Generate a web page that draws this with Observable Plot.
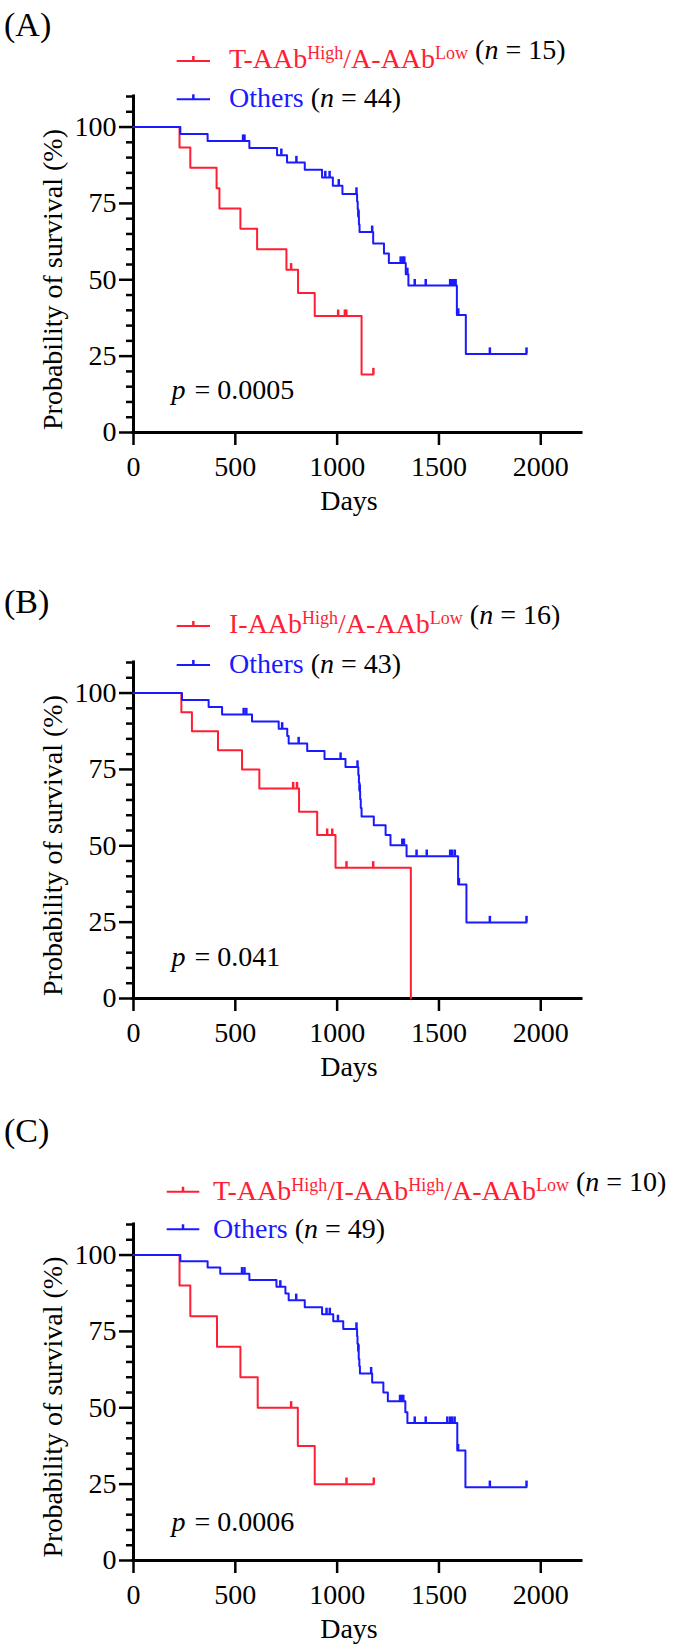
<!DOCTYPE html>
<html><head><meta charset="utf-8">
<script src="https://cdn.jsdelivr.net/npm/d3@7"></script>
<script src="https://cdn.jsdelivr.net/npm/@observablehq/plot@0.6"></script>
<style>
html,body{margin:0;padding:0;background:#fff;}
#wrap{position:relative;width:677px;height:1652px;overflow:hidden;font-family:"Liberation Serif","Times New Roman",serif;}
.panel{position:absolute;left:0;}
.panel svg, .panel svg text{font-family:"Liberation Serif","Times New Roman",serif !important;}
#overlay{position:absolute;left:0;top:0;pointer-events:none;}
</style></head><body><div id="wrap"></div>
<script>
// ---------- data ----------
const xTicks = [0, 500, 1000, 1500, 2000];
const yMajor = [0, 25, 50, 75, 100];
const yMinor = [5, 10, 15, 20, 30, 35, 40, 45, 55, 60, 65, 70, 80, 85, 90, 95, 105, 110];

// Panel A
const aRedT = [0, 226, 279, 408, 422, 525, 607, 751, 808, 890, 1120];
const aRedS = [100, 93.3, 86.7, 80.0, 73.3, 66.7, 60.0, 53.3, 45.7, 38.1, 19.0];
const aRedEnd = 1178;
const aRedCens = [774, 1005, 1038, 1045, 1178];
const aBlueT = [0, 230, 364, 569, 705, 754, 841, 926, 979, 1026, 1098, 1101, 1104, 1107, 1110, 1177, 1230, 1254, 1337, 1350, 1588, 1632];
const aBlueS = [100, 97.7, 95.4, 93.1, 90.8, 88.4, 86.0, 83.5, 80.8, 78.1, 75.6, 73.1, 70.6, 68.1, 65.6, 61.9, 58.6, 55.5, 51.8, 48.1, 38.5, 25.7];
const aBlueEnd = 1930;
const aBlueCens = [538, 545, 726, 800, 942, 963, 1008, 1095, 1105, 1172, 1312, 1322, 1330, 1345, 1381, 1435, 1555, 1565, 1575, 1582, 1595, 1750, 1930];

// Panel B
const bRedT = [0, 235, 287, 415, 533, 618, 813, 902, 992, 1362];
const bRedS = [100, 93.75, 87.5, 81.25, 75.0, 68.75, 61.1, 53.5, 42.8, 0];
const bRedEnd = 1362;
const bRedCens = [784, 803, 951, 976, 1046, 1177];
const bBlueT = [0, 238, 369, 435, 582, 713, 755, 762, 853, 938, 1041, 1104, 1107, 1110, 1113, 1116, 1120, 1180, 1238, 1262, 1341, 1594, 1635];
const bBlueS = [100, 97.7, 95.4, 93.0, 90.7, 88.3, 85.9, 83.5, 81.0, 78.4, 75.8, 73.2, 70.6, 67.9, 65.2, 62.4, 59.6, 56.7, 53.5, 50.2, 46.6, 37.3, 24.9];
const bBlueEnd = 1930;
const bBlueCens = [541, 554, 730, 811, 1017, 1100, 1111, 1320, 1328, 1390, 1440, 1555, 1565, 1578, 1598, 1750, 1930];

// Panel C
const cRedT = [0, 226, 279, 410, 525, 610, 807, 890];
const cRedS = [100, 90, 80, 70, 60, 50, 37.5, 25];
const cRedEnd = 1180;
const cRedCens = [774, 1046, 1180];
const cBlueT = [0, 230, 364, 426, 569, 702, 746, 762, 841, 926, 981, 1030, 1098, 1100, 1103, 1106, 1109, 1112, 1172, 1227, 1249, 1335, 1345, 1590, 1630];
const cBlueS = [100, 98.0, 95.9, 93.9, 91.8, 89.6, 87.4, 85.2, 82.9, 80.6, 78.3, 75.8, 73.4, 71.0, 68.6, 66.0, 63.6, 61.2, 58.3, 55.0, 52.1, 48.5, 45.0, 36.0, 24.0];
const cBlueEnd = 1930;
const cBlueCens = [533, 545, 721, 799, 948, 964, 1004, 1095, 1105, 1167, 1309, 1317, 1325, 1381, 1435, 1541, 1555, 1565, 1577, 1594, 1750, 1930];

const pValues = ["0.0005", "0.041", "0.0006"];
const panelLabels = ["(A)", "(B)", "(C)"];
const redNames = [["T-AAb", "High", "/A-AAb", "Low"], ["I-AAb", "High", "/A-AAb", "Low"], ["T-AAb", "High", "/I-AAb", "High", "/A-AAb", "Low"]];
const redN = [15, 16, 10];
const blueN = [44, 43, 49];

// ---------- styling ----------
const RED = "#ff1f35", BLUE = "#1a1aff";
const FONT = "Liberation Serif, Times New Roman, serif";

function steps(T, S, end) {
  const pts = T.map((t, i) => ({t, s: S[i]}));
  pts.push({t: end, s: S[S.length - 1]});
  return pts;
}
function censored(T, S, C) {
  return C.map(c => { let s = S[0]; for (let i = 0; i < T.length; i++) if (T[i] <= c) s = S[i]; return {t: c, s}; });
}

const panels = [
  {top: 76, red: [aRedT, aRedS, aRedEnd, aRedCens], blue: [aBlueT, aBlueS, aBlueEnd, aBlueCens], pdy: 42},
  {top: 642, red: [bRedT, bRedS, bRedEnd, bRedCens], blue: [bBlueT, bBlueS, bBlueEnd, bBlueCens], pdy: 41.5},
  {top: 1204, red: [cRedT, cRedS, cRedEnd, cRedCens], blue: [cBlueT, cBlueS, cBlueEnd, cBlueCens], pdy: 38.5}
];

const wrap = document.getElementById("wrap");

panels.forEach((p, k) => {
  const red = steps(p.red[0], p.red[1], p.red[2]);
  const redC = censored(p.red[0], p.red[1], p.red[3]);
  const blue = steps(p.blue[0], p.blue[1], p.blue[2]);
  const blueC = censored(p.blue[0], p.blue[1], p.blue[3]);
  const chart = Plot.plot({
    width: 677, height: 416,
    marginLeft: 133, marginRight: 96, marginTop: 20, marginBottom: 60,
    x: {domain: [0, 2200]},
    y: {domain: [0, 110]},
    style: "font-family: 'Liberation Serif', 'Times New Roman', serif; font-size: 28px; color: #000; background: none; overflow: visible;",
    marks: [
      Plot.axisY({ticks: yMinor, tickSize: 7, tickFormat: () => "", strokeWidth: 2.5, label: null}),
      Plot.axisY({ticks: yMajor, tickSize: 14, tickPadding: 3, strokeWidth: 2.5, label: null, tickFormat: d => `${d}`, fontSize: 28}),
      Plot.axisX({ticks: xTicks, tickSize: 13, tickPadding: 11, strokeWidth: 2.5, label: null, tickFormat: d => `${d}`, fontSize: 28}),
      Plot.ruleY([0], {x1: 0, x2: 2200, strokeWidth: 3, strokeLinecap: "square"}),
      Plot.ruleX([0], {y1: 0, y2: 110, strokeWidth: 3, strokeLinecap: "square"}),
      Plot.line(red, {x: "t", y: "s", curve: "step-after", stroke: RED, strokeWidth: 2}),
      Plot.ruleX(redC, {x: "t", y1: "s", y2: d => d.s + 2, stroke: RED, strokeWidth: 2.5}),
      Plot.line(blue, {x: "t", y: "s", curve: "step-after", stroke: BLUE, strokeWidth: 2}),
      Plot.ruleX(blueC, {x: "t", y1: "s", y2: d => d.s + 2, stroke: BLUE, strokeWidth: 2.5}),
      Plot.text(["p"], {frameAnchor: "bottom-left", dx: 38, dy: -p.pdy, text: d => d, fontStyle: "italic", textAnchor: "start", lineAnchor: "middle", fontSize: 28, fontFamily: FONT}),
      Plot.text([pValues[k]], {frameAnchor: "bottom-left", dx: 61, dy: -p.pdy, text: d => "= " + d, textAnchor: "start", lineAnchor: "middle", fontSize: 28, fontFamily: FONT})
    ]
  });
  const div = document.createElement("div");
  div.className = "panel";
  div.style.top = p.top + "px";
  div.appendChild(chart);
  wrap.appendChild(div);
});

// ---------- overlay: panel letters, legends, axis titles ----------
const svg = d3.create("svg").attr("id", "overlay").attr("width", 677).attr("height", 1652)
  .style("font-family", FONT);

const labelY = [36, 613, 1142];
const legend = [
  {x1: 176.7, x2: 210, tx: 229, ly: [61, 99.3], by: [68.3, 106.7]},
  {x1: 176.7, x2: 210, tx: 229, ly: [626, 665], by: [633.3, 673.3]},
  {x1: 166.7, x2: 199.3, tx: 213, ly: [1191.7, 1229.3], by: [1200, 1238.3]}
];
const yTitleY = [279.5, 845.5, 1407];
const daysY = [510, 1076, 1638];

panelLabels.forEach((lab, k) => {
  svg.append("text").attr("x", 4).attr("y", labelY[k]).attr("font-size", 34).text(lab);

  const L = legend[k];
  [RED, BLUE].forEach((c, r) => {
    const cx = (L.x1 + L.x2) / 2;
    svg.append("line").attr("x1", L.x1).attr("x2", L.x2).attr("y1", L.ly[r]).attr("y2", L.ly[r]).attr("stroke", c).attr("stroke-width", 2);
    svg.append("line").attr("x1", cx).attr("x2", cx).attr("y1", L.ly[r]).attr("y2", L.ly[r] - 5).attr("stroke", c).attr("stroke-width", 2.5);
  });
  const t1 = svg.append("text").attr("x", L.tx).attr("y", L.by[0]).attr("font-size", 28).style("white-space", "pre");
  redNames[k].forEach((part, i) => {
    const sup = i % 2 === 1;
    t1.append("tspan").attr("fill", RED).attr("font-size", sup ? 18 : 28).attr("dy", sup ? -9 : (i > 0 ? 9 : 0)).text(part);
  });
  t1.append("tspan").attr("fill", "#000").text(" (");
  t1.append("tspan").attr("fill", "#000").attr("font-style", "italic").text("n");
  t1.append("tspan").attr("fill", "#000").text(` = ${redN[k]})`);
  const t2 = svg.append("text").attr("x", L.tx).attr("y", L.by[1]).attr("font-size", 28).style("white-space", "pre");
  t2.append("tspan").attr("fill", BLUE).text("Others");
  t2.append("tspan").attr("fill", "#000").text(" (");
  t2.append("tspan").attr("fill", "#000").attr("font-style", "italic").text("n");
  t2.append("tspan").attr("fill", "#000").text(` = ${blueN[k]})`);

  svg.append("text").attr("transform", `translate(62,${yTitleY[k]}) rotate(-90)`).attr("text-anchor", "middle").attr("font-size", 28).text("Probability of survival (%)");
  svg.append("text").attr("x", 349).attr("y", daysY[k]).attr("text-anchor", "middle").attr("font-size", 28).text("Days");
});

wrap.appendChild(svg.node());
</script></body></html>
